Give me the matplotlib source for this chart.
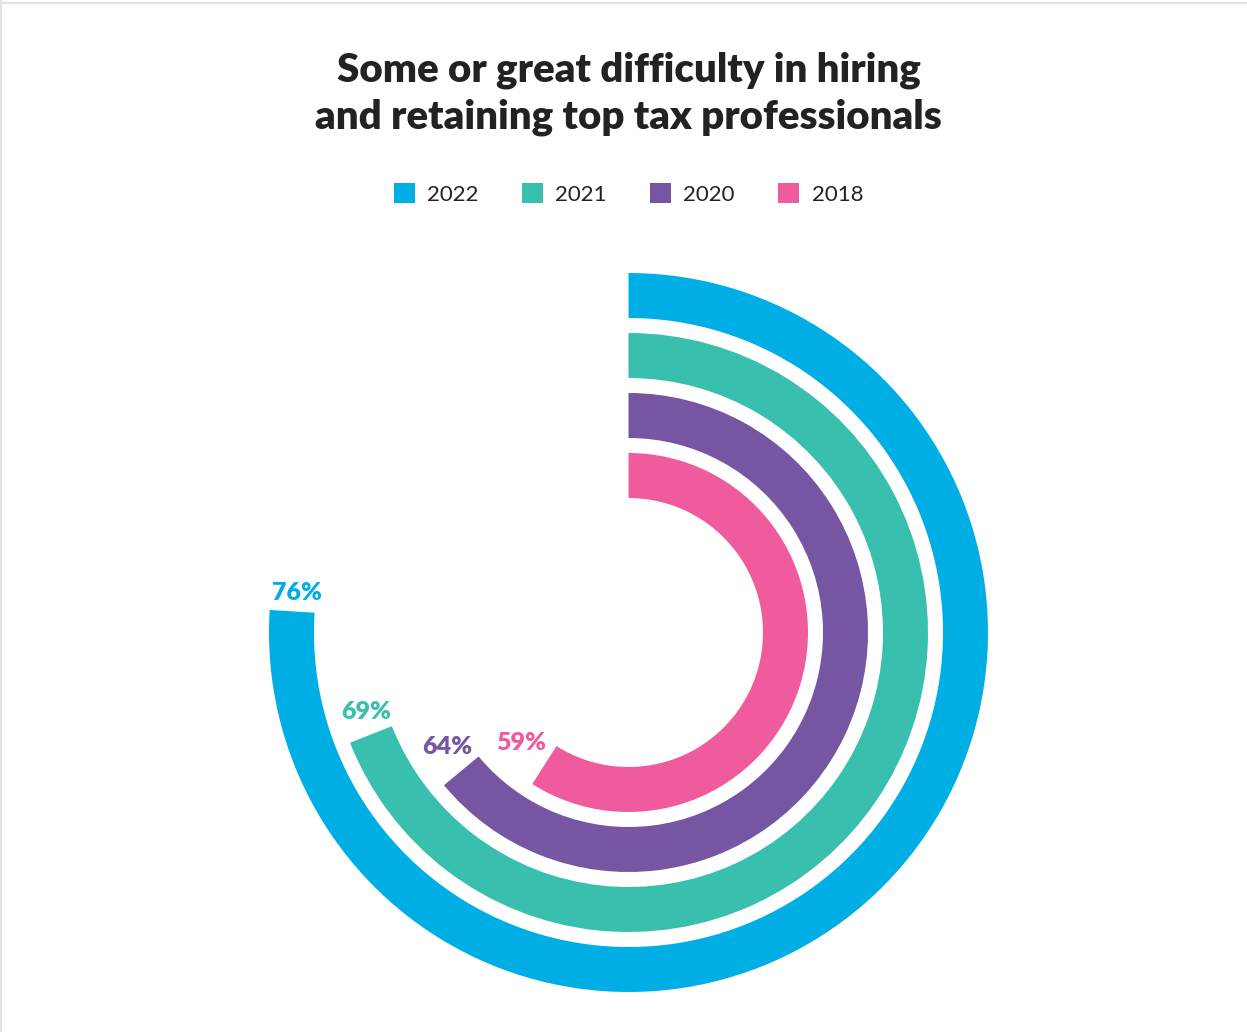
import numpy as np
import matplotlib.pyplot as plt
from matplotlib.patches import Wedge, Patch
from matplotlib.lines import Line2D

years = ["2022", "2021", "2020", "2018"]
shares = [76, 69, 64, 59]
colors = ["#00AEE6", "#38BFAD", "#7656A3", "#EF5B9C"]

W, H = 1247, 1032
fig = plt.figure(figsize=(W / 100, H / 100), dpi=100)
ax = fig.add_axes([0, 0, 1, 1])
ax.set_xlim(0, W)
ax.set_ylim(0, H)
ax.set_aspect("equal")
ax.axis("off")

# thin grey frame on top and left
fig.add_artist(Line2D([0, 1], [0.9975, 0.9975], color="#e4e4e4", lw=1.5))
fig.add_artist(Line2D([0.0012, 0.0012], [0, 1], color="#e4e4e4", lw=1.5))

cx, cy = 628.5, H - 632.5
outer = 359.5
ring = 45
step = 60

for i, (yr, val, col) in enumerate(zip(years, shares, colors)):
    r = outer - i * step
    sweep = val / 100 * 360
    # clockwise from 12 o'clock
    ax.add_patch(Wedge((cx, cy), r, 90 - sweep, 90, width=ring,
                       facecolor=col, edgecolor="none"))
    # label just past the end of the arc
    mid = r - ring / 2 - 3
    gap = 19 + 4 * i
    ang = np.radians(90 - sweep - np.degrees(gap / mid))
    ax.text(cx + mid * np.cos(ang), cy + mid * np.sin(ang), f"{val}%",
            color=col, fontsize=18, fontweight="heavy", family="Lato",
            ha="center", va="center")

fig.text(0.504, 0.909, "Some or great difficulty in hiring\nand retaining top tax professionals",
         ha="center", va="center", fontsize=29, fontweight="heavy",
         family="Lato", color="#222222", linespacing=1.3)

handles = [Patch(facecolor=c, edgecolor="none") for c in colors]
leg = fig.legend(handles, years, loc="center", bbox_to_anchor=(0.504, 0.812),
                 ncol=4, frameon=False, handlelength=0.95, handleheight=0.95,
                 handletextpad=0.55, columnspacing=1.95,
                 prop={"family": "Lato", "size": 16})
for t in leg.get_texts():
    t.set_color("#222222")

fig.savefig("out.png", dpi=100, facecolor="white")
